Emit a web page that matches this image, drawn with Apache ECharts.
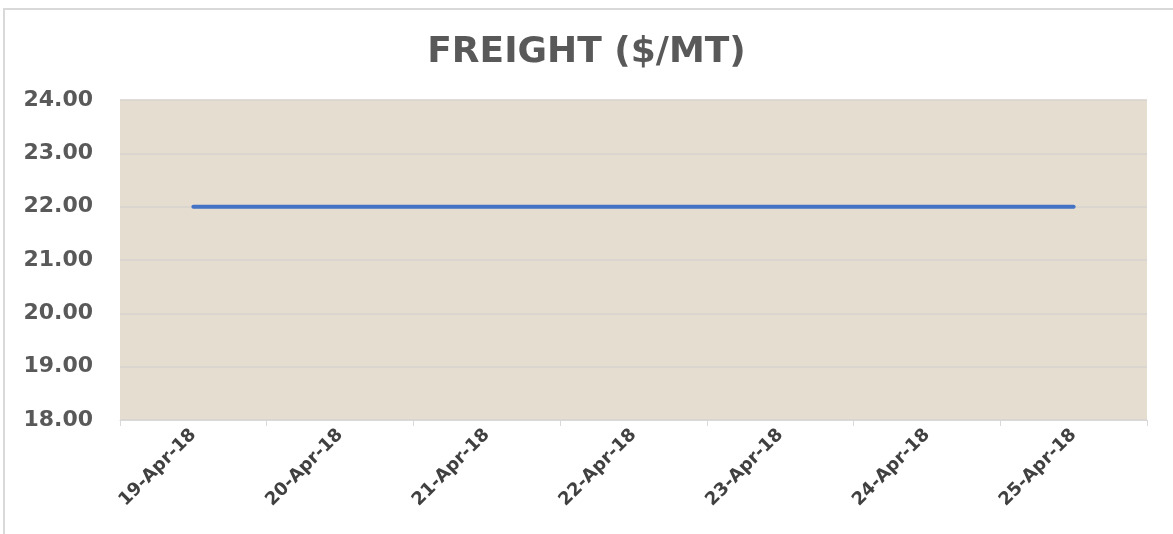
<!DOCTYPE html>
<html>
<head>
<meta charset="utf-8">
<script src="https://cdn.jsdelivr.net/npm/echarts@6/dist/echarts.min.js"></script>
<style>
html,body{margin:0;padding:0;background:#fff;}
#chart{width:1173px;height:534px;}
</style>
</head>
<body>
<div id="chart"></div>
<script>
var categories = ['19-Apr-18','20-Apr-18','21-Apr-18','22-Apr-18','23-Apr-18','24-Apr-18','25-Apr-18'];
var freight = [22.00, 22.00, 22.00, 22.00, 22.00, 22.00, 22.00];
var yTicks = [18, 19, 20, 21, 22, 23, 24];

var chart = echarts.init(document.getElementById('chart'));
var fontFam = '"DejaVu Sans", sans-serif';
chart.setOption({
  animation: false,
  backgroundColor: '#ffffff',
  graphic: [{
    type: 'rect',
    shape: {x: 4, y: 9, width: 1180, height: 540},
    style: {fill: 'none', stroke: '#d9d9d9', lineWidth: 2},
    z: 0
  }],
  title: {
    text: 'FREIGHT ($/MT)',
    left: 'center',
    top: 30,
    textStyle: {fontFamily: fontFam, fontWeight: 'bold', fontSize: 36, color: '#595959'}
  },
  grid: {
    left: 120, right: 26, top: 100, bottom: 114,
    show: true,
    backgroundColor: '#e6ddd1',
    borderWidth: 0
  },
  xAxis: {
    type: 'category',
    data: categories,
    boundaryGap: true,
    axisLine: {show: true, lineStyle: {color: '#d9d9d9', width: 1}},
    axisTick: {show: true, length: 6, lineStyle: {color: '#d9d9d9'}},
    axisLabel: {
      rotate: 45,
      margin: 12,
      fontFamily: fontFam,
      fontWeight: 'bold',
      fontSize: 18,
      color: '#404040'
    }
  },
  yAxis: {
    type: 'value',
    min: yTicks[0],
    max: yTicks[yTicks.length - 1],
    interval: 1,
    axisLine: {show: false},
    axisTick: {show: false},
    splitLine: {show: true, lineStyle: {color: '#d6d2cc', width: 1.5}},
    axisLabel: {
      margin: 27,
      fontFamily: fontFam,
      fontWeight: 'bold',
      fontSize: 22,
      color: '#595959',
      formatter: function (v) { return v.toFixed(2); }
    }
  },
  series: [{
    type: 'line',
    data: freight,
    showSymbol: false,
    lineStyle: {color: '#4472c4', width: 4, cap: 'round'},
    itemStyle: {color: '#4472c4'}
  }]
});
</script>
</body>
</html>
